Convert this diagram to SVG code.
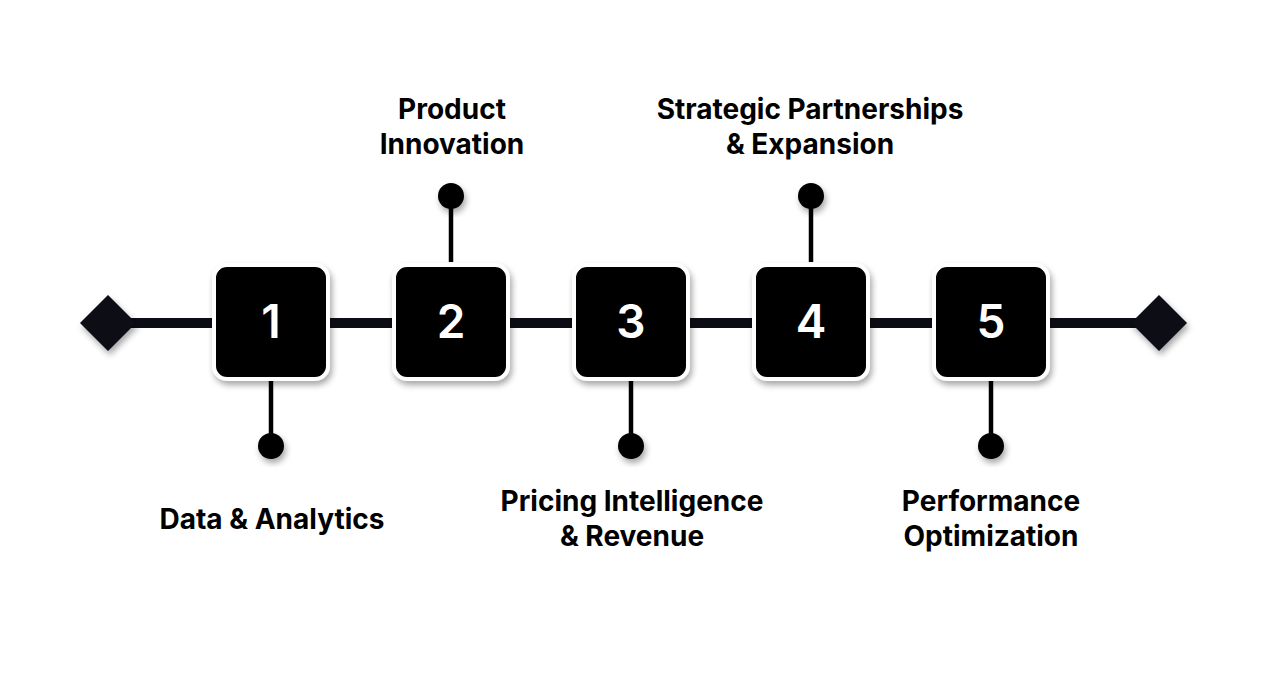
<svg xmlns="http://www.w3.org/2000/svg" width="1270" height="674" viewBox="0 0 1270 674">
<defs>
<filter id="sh" x="-30%" y="-30%" width="160%" height="160%">
<feDropShadow dx="2" dy="4" stdDeviation="3" flood-color="#000" flood-opacity="0.35"/>
</filter>
<style>
.box{fill:#000;stroke:#fff;stroke-width:4;filter:url(#sh)}
.num{font-family:Inter,"Liberation Sans",sans-serif;font-weight:600;font-size:46px;fill:#fff;text-anchor:middle}
.lbl{font-family:Inter,"Liberation Sans",sans-serif;font-weight:700;font-size:28px;fill:#000;text-anchor:middle}
.stem{stroke:#000;stroke-width:4.5}
.dot{fill:#000;filter:url(#sh)}
.main{stroke:#0c0c14;stroke-width:10}
.dia{fill:#0c0c14;filter:url(#sh)}
</style>
</defs>
<rect width="1270" height="674" fill="#fff"/>
<g id="connectors">
<line class="main" x1="108" y1="323" x2="1159" y2="323"/>
<polygon class="dia" points="80,323 108,295 136,323 108,351"/>
<polygon class="dia" points="1131,323 1159,295 1187,323 1159,351"/>
<line class="stem" x1="271" y1="380" x2="271" y2="446"/>
<line class="stem" x1="451" y1="196" x2="451" y2="262"/>
<line class="stem" x1="631" y1="380" x2="631" y2="446"/>
<line class="stem" x1="811" y1="196" x2="811" y2="262"/>
<line class="stem" x1="991" y1="380" x2="991" y2="446"/>
</g>
<g id="node1">
<rect class="box" x="214" y="265" width="114" height="114" rx="13"/>
<text class="num" x="271" y="338">1</text>
<circle class="dot" cx="271" cy="446" r="13"/>
<text class="lbl" x="272" y="529">Data &amp; Analytics</text>
</g>
<g id="node2">
<rect class="box" x="394" y="265" width="114" height="114" rx="13"/>
<text class="num" x="451" y="338">2</text>
<circle class="dot" cx="451" cy="196" r="13"/>
<text class="lbl" x="452" y="119">Product</text>
<text class="lbl" x="452" y="154">Innovation</text>
</g>
<g id="node3">
<rect class="box" x="574" y="265" width="114" height="114" rx="13"/>
<text class="num" x="631" y="338">3</text>
<circle class="dot" cx="631" cy="446" r="13"/>
<text class="lbl" x="632" y="511">Pricing Intelligence</text>
<text class="lbl" x="632" y="546">&amp; Revenue</text>
</g>
<g id="node4">
<rect class="box" x="754" y="265" width="114" height="114" rx="13"/>
<text class="num" x="811" y="338">4</text>
<circle class="dot" cx="811" cy="196" r="13"/>
<text class="lbl" x="810" y="119">Strategic Partnerships</text>
<text class="lbl" x="810" y="154">&amp; Expansion</text>
</g>
<g id="node5">
<rect class="box" x="934" y="265" width="114" height="114" rx="13"/>
<text class="num" x="991" y="338">5</text>
<circle class="dot" cx="991" cy="446" r="13"/>
<text class="lbl" x="991" y="511">Performance</text>
<text class="lbl" x="991" y="546">Optimization</text>
</g>
</svg>
